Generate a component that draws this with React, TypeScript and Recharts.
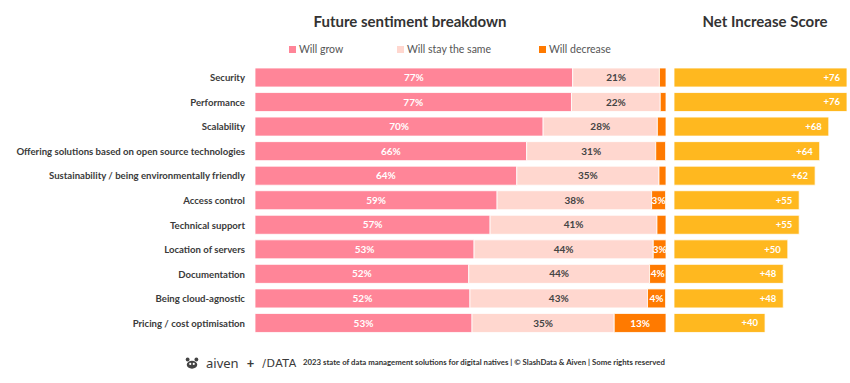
import { Bar, BarChart, LabelList, XAxis, YAxis } from "recharts";

// Survey: 2023 state of data management solutions for digital natives
const categories = [
  "Security",
  "Performance",
  "Scalability",
  "Offering solutions based on open source technologies",
  "Sustainability / being environmentally friendly",
  "Access control",
  "Technical support",
  "Location of servers",
  "Documentation",
  "Being cloud-agnostic",
  "Pricing / cost optimisation",
];

const willGrow = [77.3, 77.0, 70.1, 66.1, 63.7, 58.9, 57.2, 53.3, 52.0, 52.3, 52.8];
const willStay = [21.1, 21.6, 27.8, 31.4, 34.6, 37.6, 40.6, 43.6, 44.0, 43.2, 34.6];
const willDecrease = [1.6, 1.4, 2.1, 2.4, 1.7, 3.4, 2.2, 3.1, 4.0, 4.4, 12.6];
const netScore = [76, 76, 68, 64, 62, 55, 55, 50, 48, 48, 40];

const legendItems = ["Will grow", "Will stay the same", "Will decrease"];

const COLORS = {
  grow: "#FF8598",
  stay: "#FFD7CF",
  decrease: "#FF7A00",
  net: "#FFB81F",
  text: "#333333",
};
const legendColors = [COLORS.grow, COLORS.stay, COLORS.decrease];

const FONT = "Lato, 'Open Sans', sans-serif";

const sentimentData = categories.map((name, i) => ({
  name,
  grow: willGrow[i],
  stay: willStay[i],
  decrease: willDecrease[i],
}));
const netData = categories.map((name, i) => ({ name, net: netScore[i] }));

const pct = (v: any) => `${Math.round(Number(v))}%`;
const pctSmall = (v: any) => (Math.round(Number(v)) >= 3 ? `${Math.round(Number(v))}%` : "");

const MARGIN_TOP = 65;
const MARGIN_BOTTOM = 48;

// single-line category labels (default tick wraps long text)
function CategoryTick({ x, y, payload }: any) {
  return (
    <text x={x} y={y} dy={4} textAnchor="end" fontSize={9.6} fontWeight={700} fill="#3a3a3a" fontFamily={FONT}>
      {payload.value}
    </text>
  );
}

export default function App() {
  const legendWidths = [108, 142, 80];
  return (
    <div
      style={{
        position: "absolute",
        left: 0,
        top: 0,
        width: 850,
        height: 383,
        background: "#fff",
        fontFamily: FONT,
        overflow: "hidden",
      }}
    >
      <div style={{ position: "absolute", left: 260, width: 300, top: 12, textAlign: "center", fontSize: 15, fontWeight: 700, color: COLORS.text }}>
        Future sentiment breakdown
      </div>
      <div style={{ position: "absolute", left: 680, width: 170, top: 12, textAlign: "center", fontSize: 15, fontWeight: 700, color: COLORS.text }}>
        Net Increase Score
      </div>

      <div style={{ position: "absolute", left: 289, top: 43, display: "flex", fontSize: 10.5, color: "#555" }}>
        {legendItems.map((label, i) => (
          <div key={label} style={{ display: "flex", alignItems: "center", width: legendWidths[i] }}>
            <span style={{ width: 7, height: 7, background: legendColors[i], marginRight: 3, display: "inline-block" }} />
            {label}
          </div>
        ))}
      </div>

      <div style={{ position: "absolute", left: 0, top: 0 }}>
        <BarChart
          width={670}
          height={383}
          data={sentimentData}
          layout="vertical"
          barSize={19}
          margin={{ top: MARGIN_TOP, right: 4, bottom: MARGIN_BOTTOM, left: 0 }}
        >
          <XAxis type="number" domain={[0, 100]} hide />
          <YAxis
            type="category"
            dataKey="name"
            width={255}
            axisLine={false}
            tickLine={false}
            tickSize={0}
            tickMargin={10}
            interval={0}
            tick={<CategoryTick />}
          />
          <Bar dataKey="grow" name="Will grow" stackId="s" fill={COLORS.grow} stroke="#fff" strokeWidth={0.8} isAnimationActive={false}>
            <LabelList dataKey="grow" position="center" formatter={pct} fill="#fff" fontSize={10} fontWeight={700} fontFamily={FONT} />
          </Bar>
          <Bar dataKey="stay" name="Will stay the same" stackId="s" fill={COLORS.stay} stroke="#fff" strokeWidth={0.8} isAnimationActive={false}>
            <LabelList dataKey="stay" position="center" formatter={pct} fill="#444" fontSize={10} fontWeight={700} fontFamily={FONT} />
          </Bar>
          <Bar dataKey="decrease" name="Will decrease" stackId="s" fill={COLORS.decrease} stroke="#fff" strokeWidth={0.8} isAnimationActive={false}>
            <LabelList dataKey="decrease" position="center" formatter={pctSmall} fill="#fff" fontSize={10} fontWeight={700} fontFamily={FONT} />
          </Bar>
        </BarChart>
      </div>

      <div style={{ position: "absolute", left: 674, top: 0 }}>
        <BarChart
          width={176}
          height={383}
          data={netData}
          layout="vertical"
          barSize={19}
          margin={{ top: MARGIN_TOP, right: 3, bottom: MARGIN_BOTTOM, left: 0 }}
        >
          <XAxis type="number" domain={[0, 76]} hide />
          <YAxis type="category" dataKey="name" hide />
          <Bar dataKey="net" fill={COLORS.net} stroke="#fff" strokeWidth={0.8} isAnimationActive={false}>
            <LabelList
              dataKey="net"
              position="insideRight"
              offset={7}
              formatter={(v: any) => `+${v}`}
              fill="#fff"
              fontSize={9.5}
              fontWeight={700}
              fontFamily={FONT}
            />
          </Bar>
        </BarChart>
      </div>

      {/* footer: logos + source */}
      <div style={{ position: "absolute", left: 184, top: 354, display: "flex", alignItems: "center", color: "#3a3a3a" }}>
        <svg width={16} height={14} viewBox="0 0 18 16">
          <ellipse cx={9} cy={10} rx={6} ry={4.5} fill="#444" />
          <circle cx={4} cy={4} r={2.2} fill="#444" />
          <circle cx={14} cy={4} r={2.2} fill="#444" />
          <circle cx={7} cy={9} r={1.2} fill="#fff" />
          <circle cx={11} cy={9} r={1.2} fill="#fff" />
        </svg>
        <span style={{ fontSize: 13, marginLeft: 6, fontFamily: "'Noto Sans', sans-serif" }}>aiven</span>
        <span style={{ fontSize: 13, marginLeft: 8, fontWeight: 700 }}>+</span>
        <span style={{ fontSize: 11, marginLeft: 8, letterSpacing: 0.5, fontFamily: "'DejaVu Sans', sans-serif" }}>/DATA</span>
      </div>
      <div style={{ position: "absolute", left: 303, top: 357, fontSize: 7.8, fontWeight: 700, color: "#333", whiteSpace: "nowrap" }}>
        2023 state of data management solutions for digital natives | © SlashData &amp; Aiven | Some rights reserved
      </div>
    </div>
  );
}
